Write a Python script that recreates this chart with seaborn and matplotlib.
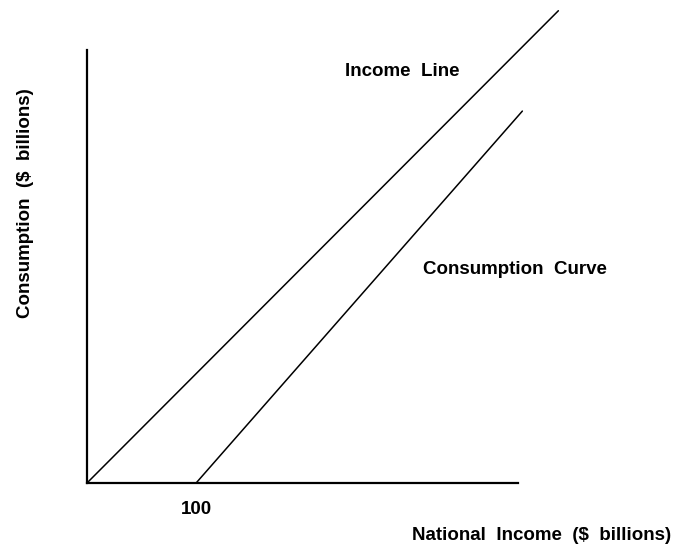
import matplotlib
matplotlib.use("Agg")
import matplotlib.pyplot as plt
import seaborn as sns
import pandas as pd

sns.set_style("white")
plt.rcParams["font.family"] = ["Liberation Sans", "DejaVu Sans"]
plt.rcParams["text.color"] = "black"
plt.rcParams["axes.labelcolor"] = "black"
plt.rcParams["xtick.color"] = "black"

# data (units: $ billions)
income_x = [0, 432]
income_y = [0, 433]
consumption_x = [100, 399]
consumption_y = [0, 341]
x_ticks = [100]
x_tick_labels = ["100"]

income = pd.DataFrame({"x": income_x, "y": income_y})
consumption = pd.DataFrame({"x": consumption_x, "y": consumption_y})

fig = plt.figure(figsize=(6.74, 5.5), dpi=100)
ax = fig.add_axes([87 / 674, 67 / 550, 431 / 674, 433 / 550])

sns.lineplot(data=income, x="x", y="y", ax=ax, color="black", linewidth=1.1,
             clip_on=False)
sns.lineplot(data=consumption, x="x", y="y", ax=ax, color="black", linewidth=1.1,
             clip_on=False)

ax.set_xlim(0, 395)
ax.set_ylim(0, 397)

sns.despine(ax=ax)
for s in ["left", "bottom"]:
    ax.spines[s].set_color("black")
    ax.spines[s].set_linewidth(1.6)

fs = 13.5
ax.set_xticks(x_ticks)
ax.set_xticklabels(x_tick_labels, fontsize=fs, fontweight="bold")
ax.set_yticks([])
ax.tick_params(axis="x", length=0, pad=13)

# curve labels
ax.text(289, 377, "Income  Line", fontsize=fs, fontweight="bold",
        ha="center", va="center")
ax.text(392, 196, "Consumption  Curve", fontsize=fs, fontweight="bold",
        ha="center", va="center")

ax.set_xlabel("National  Income  (\\$  billions)", fontsize=fs, fontweight="bold")
ax.xaxis.set_label_coords(1.055, -0.102)
ax.set_ylabel("Consumption  (\\$  billions)", fontsize=fs, fontweight="bold")
ax.yaxis.set_label_coords(-0.123, 0.647)

fig.savefig("out.png", dpi=100)
